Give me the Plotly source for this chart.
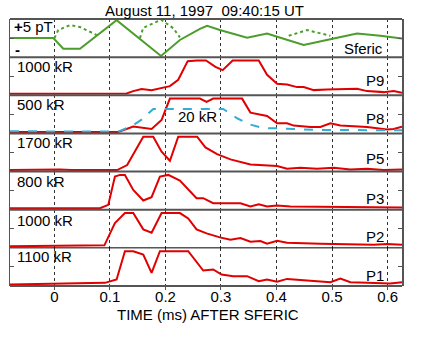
import plotly.graph_objects as go

# ---------------- data ----------------
title_text = "August 11, 1997  09:40:15 UT"
x_title = "TIME (ms) AFTER SFERIC"
x_ticks = [0, 0.1, 0.2, 0.3, 0.4, 0.5, 0.6]
x_ticklabels = ["0", "0.1", "0.2", "0.3", "0.4", "0.5", "0.6"]

# Sferic (pT)
sferic_t = [-0.08, -0.002, 0.016, 0.046, 0.112, 0.192, 0.226, 0.262, 0.275, 0.298,
            0.347, 0.383, 0.407, 0.449, 0.503, 0.545, 0.587, 0.626]
sferic_v = [0, 0, -2.8, -2.8, 4.7, -4.7, -0.5, 2.4, 3.2, 2.1,
            0.1, 1.2, 0.1, -1.8, -0.1, 1.2, 0.6, -0.1]
sferic_dot_t = [0, 0.007, 0.028, 0.046, 0.076, None,
                0.154, 0.160, 0.192, 0.214, 0.226, None,
                0.422, 0.455, 0.497]
sferic_dot_v = [0, 2.1, 3.4, 2.9, 0.8, None,
                0, 2.7, 4.8, 2.6, 0.2, None,
                0.6, 2.1, 0.6]

# Photometer channels (kR)
p9_t = [-0.08, 0.118, 0.130, 0.142, 0.157, 0.175, 0.190, 0.208, 0.223, 0.240, 0.257, 0.273,
        0.290, 0.303, 0.321, 0.368, 0.383, 0.401, 0.419, 0.437, 0.449, 0.467, 0.491, 0.521,
        0.545, 0.563, 0.593, 0.611, 0.626]
p9_v = [0, 0, 10, 80, 140, 110, 160, 230, 420, 980, 1000, 1000,
        810, 710, 1000, 1000, 570, 300, 280, 200, 200, 110, 130, 150,
        150, 80, 50, 80, 30]

p8_t = [-0.08, 0.115, 0.142, 0.175, 0.193, 0.208, 0.262, 0.274, 0.286, 0.338, 0.353, 0.383,
        0.401, 0.419, 0.431, 0.461, 0.479, 0.497, 0.515, 0.563, 0.599, 0.611, 0.626]
p8_v = [0, 0, 80, 45, 180, 500, 500, 450, 500, 500, 290, 240,
        130, 130, 95, 75, 75, 130, 95, 75, 35, 45, 80]

p8b_t = [-0.08, 0.115, 0.140, 0.157, 0.178, 0.304, 0.329, 0.353, 0.377, 0.401, 0.473, 0.626]
p8b_v = [0.4, 0.2, 3.6, 7.4, 13.8, 13.8, 8.2, 4.4, 2.2, 2.2, 1.2, 1.0]

p5_t = [-0.08, 0.01, 0.03, 0.113, 0.131, 0.160, 0.178, 0.193, 0.208, 0.223, 0.257, 0.272,
        0.293, 0.317, 0.353, 0.401, 0.419, 0.443, 0.473, 0.503, 0.533, 0.563, 0.593, 0.626]
p5_v = [0, 35, 0, 0, 255, 1700, 1700, 935, 475, 1700, 1700, 1155,
        815, 545, 290, 205, 70, 120, 70, 120, 35, 70, 0, 35]

p3_t = [-0.08, 0.082, 0.097, 0.109, 0.118, 0.127, 0.142, 0.160, 0.175, 0.190, 0.205, 0.226,
        0.256, 0.268, 0.286, 0.335, 0.353, 0.368, 0.383, 0.401, 0.425, 0.503, 0.563, 0.626]
p3_v = [0, 0, 80, 760, 800, 800, 440, 185, 265, 760, 800, 665,
        240, 240, 120, 120, 40, 95, 40, 65, 40, 25, 15, 15]

p2_t = [-0.08, 0.09, 0.109, 0.127, 0.142, 0.160, 0.175, 0.193, 0.226, 0.241, 0.256, 0.274,
        0.298, 0.317, 0.335, 0.353, 0.371, 0.383, 0.401, 0.419, 0.479, 0.533, 0.575, 0.599, 0.626]
p2_v = [0, 30, 700, 1000, 1000, 510, 410, 1000, 1000, 840, 510, 390,
        270, 200, 250, 140, 160, 80, 170, 110, 80, 70, 50, 70, 50]

p1_t = [-0.08, 0.091, 0.112, 0.127, 0.142, 0.160, 0.175, 0.190, 0.241, 0.268, 0.286, 0.301,
        0.322, 0.347, 0.368, 0.383, 0.401, 0.419, 0.443, 0.479, 0.497, 0.515, 0.533, 0.563,
        0.605, 0.626]
p1_v = [0, 55, 165, 1100, 1100, 990, 385, 1100, 1100, 460, 495, 330,
        275, 275, 110, 165, 90, 185, 145, 100, 75, 200, 75, 55,
        35, 75]

panel_names = ["P9", "P8", "P5", "P3", "P2", "P1"]
panel_scales = [1000, 500, 1700, 800, 1000, 1100]
panel_labels = ["1000 kR", "500 kR", "1700 kR", "800 kR", "1000 kR", "1100 kR"]
panel_t = [p9_t, p8_t, p5_t, p3_t, p2_t, p1_t]
panel_v = [p9_v, p8_v, p5_v, p3_v, p2_v, p1_v]
blue_scale = 20
blue_label = "20 kR"

# ---------------- layout geometry ----------------
W, H = 423, 362
PL, PR, PT, PB = 10, 402, 19, 286   # plot area in pixels
ML, MT = PL, PT
MR = W - PR
MB = H - PB
PW = PR - PL
PH = PB - PT
NP = 7
XR = [-0.08, 0.626]

RED = "#e00000"
GREEN = "#4c9e2c"
BLUE = "#35acd6"
FRAME = "#555555"
FONT = "Liberation Sans, Arial, sans-serif"


def py2paper(py):
    return (PB - py) / PH


def px2paper(px):
    return (px - PL) / PW


fig = go.Figure()
layout = dict(
    width=W, height=H, autosize=False,
    margin=dict(l=ML, r=MR, t=MT, b=MB, pad=0),
    paper_bgcolor="white", plot_bgcolor="white",
    showlegend=False,
    font=dict(family=FONT, size=15, color="black"),
)

layout["xaxis"] = dict(
    range=XR, domain=[0, 1], anchor="y7",
    tickvals=x_ticks, ticktext=x_ticklabels,
    ticks="outside", ticklen=3, tickcolor=FRAME, ticklabelstandoff=-6,
    showgrid=True, gridcolor="#333333", gridwidth=1, griddash="dot",
    showline=False, zeroline=False,
    tickfont=dict(size=15, family=FONT, color="black"),
)

for i in range(NP):
    top = i * PH / NP
    bot = (i + 1) * PH / NP
    d0 = 1 - bot / PH
    d1 = 1 - top / PH
    name = "yaxis" if i == 0 else f"yaxis{i + 1}"
    if i == 0:
        rng = [-5, 5]
        mid = 0
    else:
        s = panel_scales[i - 1]
        rng = [-0.045 * s, 1.10 * s]
        mid = (rng[0] + rng[1]) / 2
    layout[name] = dict(
        domain=[d0, d1], range=rng, anchor="x",
        tickvals=[mid], ticks="inside", ticklen=4, tickcolor=FRAME,
        showticklabels=False, showgrid=False, zeroline=False,
        showline=True, linecolor=FRAME, linewidth=1.5, mirror="ticks",
        fixedrange=True,
    )

layout["yaxis8"] = dict(
    overlaying="y3", range=[-0.045 * blue_scale, 1.10 * blue_scale],
    showticklabels=False, showgrid=False, zeroline=False, showline=False, ticks="",
)

fig.add_trace(go.Scatter(x=sferic_dot_t, y=sferic_dot_v, mode="lines", xaxis="x", yaxis="y",
                         line=dict(color=GREEN, width=2, dash="dot"), connectgaps=False))
fig.add_trace(go.Scatter(x=sferic_t, y=sferic_v, mode="lines", xaxis="x", yaxis="y",
                         line=dict(color=GREEN, width=2)))
fig.add_trace(go.Scatter(x=p8b_t, y=p8b_v, mode="lines", xaxis="x", yaxis="y8",
                         line=dict(color=BLUE, width=2, dash="dash")))
for k in range(6):
    fig.add_trace(go.Scatter(x=panel_t[k], y=panel_v[k], mode="lines", xaxis="x",
                             yaxis=f"y{k + 2}", line=dict(color=RED, width=2)))

shapes = []
for i in range(NP + 1):
    yp = 1 - i / NP
    color = "black" if i == 6 else FRAME
    width = 1 if i == 6 else 2
    shapes.append(dict(type="line", xref="paper", yref="paper", x0=0, x1=1, y0=yp, y1=yp,
                       line=dict(color=color, width=width), layer="above"))
layout["shapes"] = shapes

ann = []
ann.append(dict(text=title_text, x=px2paper(204), y=py2paper(10.5), xref="paper", yref="paper",
                xanchor="center", yanchor="middle", showarrow=False, font=dict(size=15)))
ann.append(dict(text="<b>+</b>5 pT", x=px2paper(12), y=py2paper(26.5), xref="paper", yref="paper",
                xanchor="left", yanchor="middle", showarrow=False, font=dict(size=15)))
ann.append(dict(text="<b>-</b>", x=px2paper(13), y=py2paper(49), xref="paper", yref="paper",
                xanchor="left", yanchor="middle", showarrow=False, font=dict(size=15)))
ann.append(dict(text="Sferic", x=px2paper(385), y=py2paper(48.3), xref="paper", yref="paper",
                xanchor="right", yanchor="middle", showarrow=False, font=dict(size=15)))
label_y = [66.7, 104, 142.7, 181.7, 220, 256]
name_y = [80, 118.3, 158.3, 198.3, 236.7, 275]
for k in range(6):
    ann.append(dict(text=panel_labels[k], x=px2paper(15), y=py2paper(label_y[k]), xref="paper",
                    yref="paper", xanchor="left", yanchor="middle", showarrow=False))
    ann.append(dict(text=panel_names[k], x=px2paper(386), y=py2paper(name_y[k]), xref="paper",
                    yref="paper", xanchor="right", yanchor="middle", showarrow=False))
ann.append(dict(text=blue_label, x=px2paper(175.5), y=py2paper(116.7), xref="paper", yref="paper",
                xanchor="left", yanchor="middle", showarrow=False))
ann.append(dict(text=x_title, x=px2paper(207.5), y=py2paper(314), xref="paper", yref="paper",
                xanchor="center", yanchor="middle", showarrow=False, font=dict(size=15)))
layout["annotations"] = ann

fig.update_layout(**layout)
fig.write_html(
    "out.html",
    config={"displayModeBar": False, "staticPlot": True},
    post_script="document.body.style.margin='0px';document.body.style.padding='0px';"
                "document.documentElement.style.overflow='hidden';",
)
